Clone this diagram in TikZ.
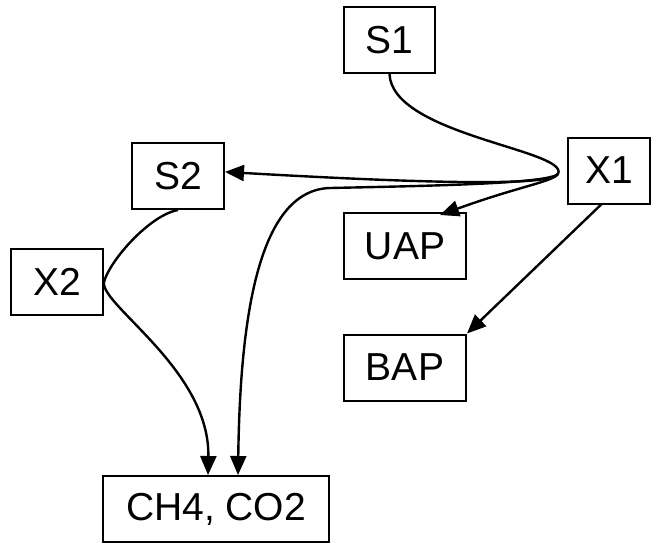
\documentclass[tikz,border=0pt]{standalone}
\usepackage{fontspec}
\setmainfont{Liberation Sans}
\usetikzlibrary{calc}
\usetikzlibrary{arrows.meta}

\begin{document}
\begin{tikzpicture}[
x=0.5pt, y=-0.5pt,
MyBoxes/.style={draw=black,line width=1pt,inner sep=0pt,minimum height=33pt,font=\fontsize{19.5}{23}\selectfont},
MyArrows/.style={-{Triangle[length=9.5pt,width=8pt]},line width=1.2pt},
MyCurves/.style={line width=1.2pt}
]

\useasboundingbox (0,0) rectangle (654,542);

\node[MyBoxes,minimum width=45.5pt] (S1) at (389.5,40) {S1};
\node[MyBoxes,minimum width=41pt] (X1) at (609,170.5) {X1};
\node[MyBoxes,minimum width=46pt] (S2) at (178,176) {S2};
\node[MyBoxes,minimum width=61pt] (UAP) at (405,246) {UAP};
\node[MyBoxes,minimum width=46pt] (X2) at (57,282) {X2};
\node[MyBoxes,minimum width=61pt] (BAP) at (405,367.5) {BAP};
\node[MyBoxes,minimum width=113pt] (CH4) at (216,509) {CH4, CO2};

% point where the flow from S1 turns back
\pgfmathparse{558}		\let\Xj\pgfmathresult
\pgfmathparse{174}		\let\Yj\pgfmathresult
\coordinate (J) at (\Xj,\Yj);

\draw[MyCurves] (S1.south) .. controls (392,135) and (570,150) .. (J);

\draw[MyArrows] (J) .. controls (552,184) and (470,186) .. (S2.5);
\draw[MyArrows] (J) .. controls (552,182) and (520,186) .. ($(UAP.north)+(35,3)$);
\draw[MyArrows] (J) .. controls (548,184) and (420,186) .. (330,188)
  .. controls (255,190) and (240,330) .. ($(CH4.north)+(22,0)$);

\draw[MyArrows] (X1.-103) -- (BAP.north east);

\draw[MyArrows] (S2.south) .. controls (150,215) and (110,260) .. (X2.east)
  .. controls (100,305) and (210,370) .. ($(CH4.north)+(-8,0)$);

\end{tikzpicture}
\end{document}
